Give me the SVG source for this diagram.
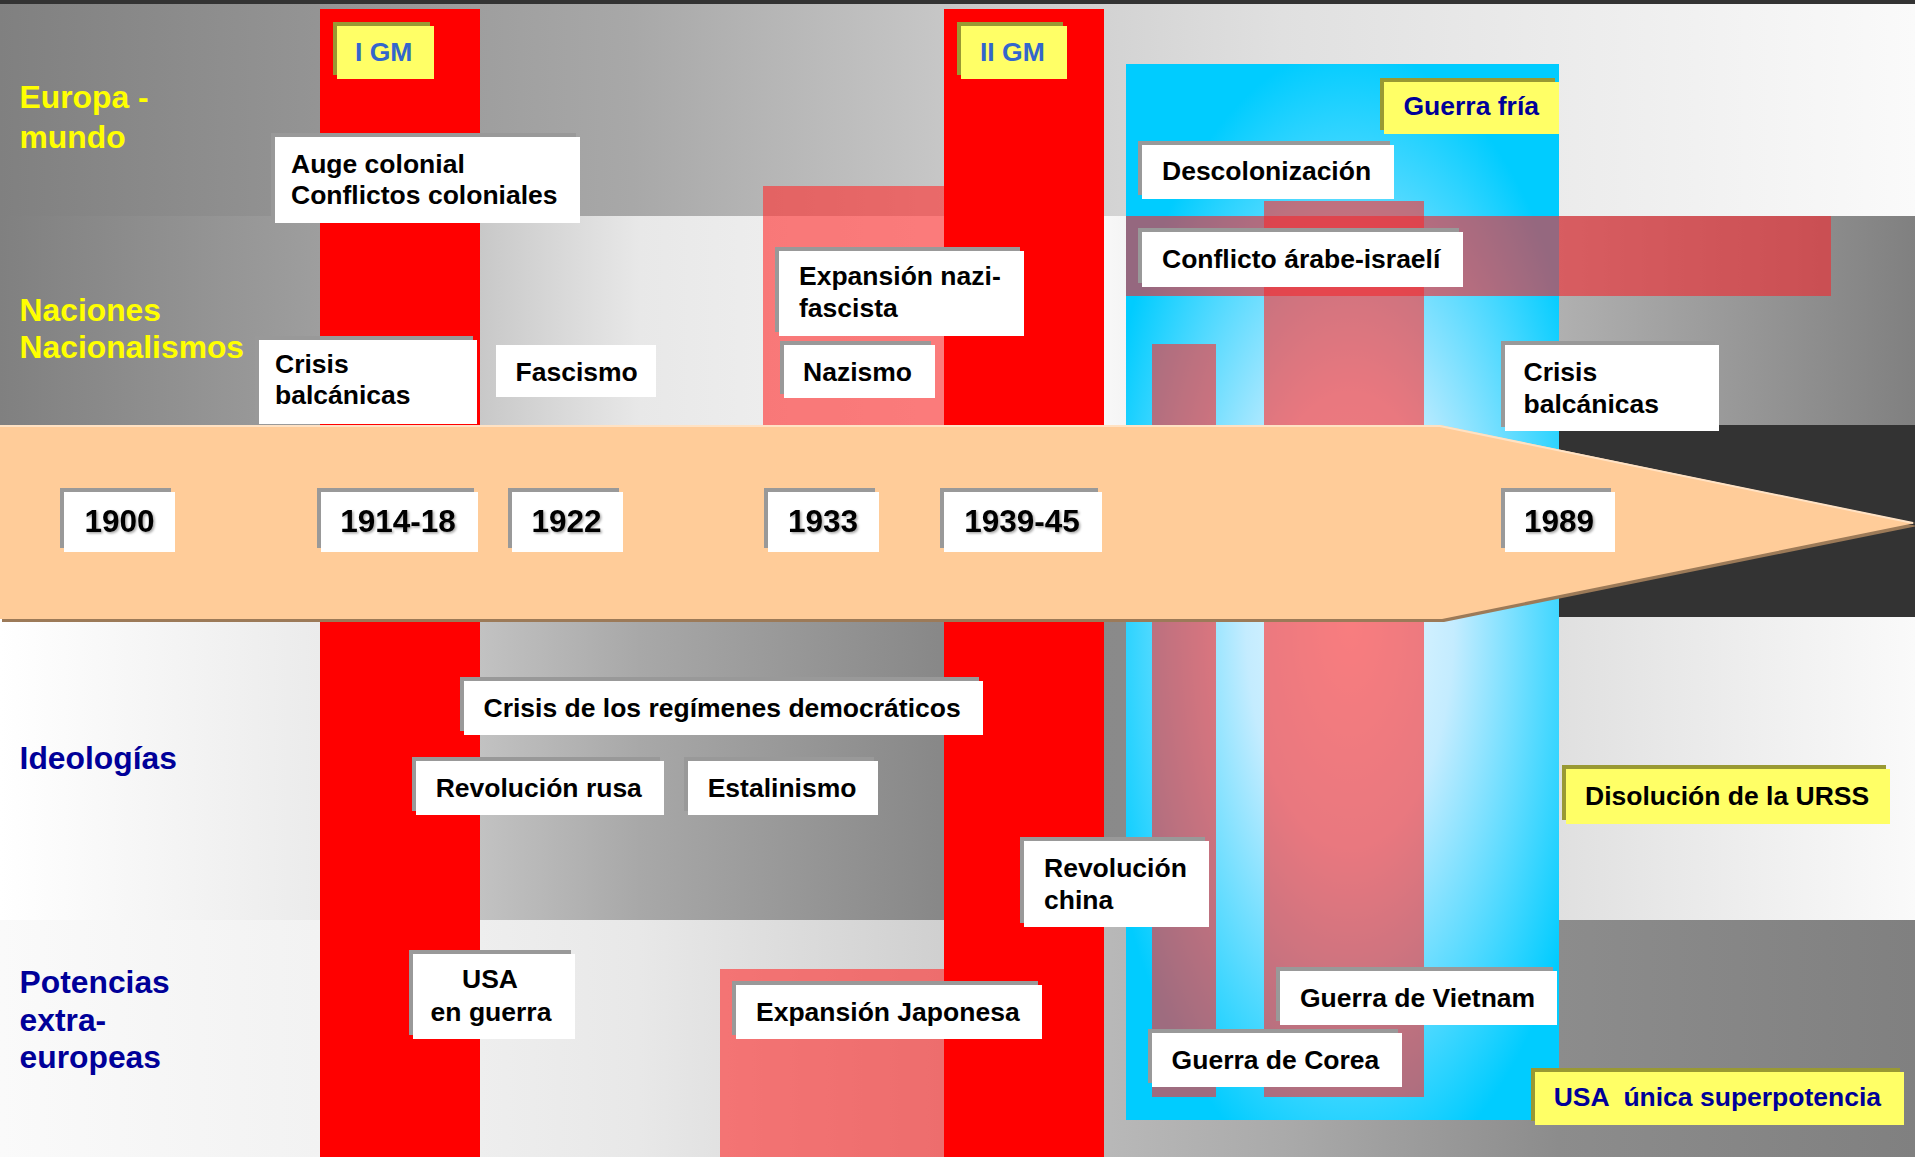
<svg xmlns="http://www.w3.org/2000/svg" width="1915" height="1157" viewBox="0 0 1915 1157">
<style>
.t{font-family:"Liberation Sans",Arial,Helvetica,sans-serif;font-weight:bold;font-size:26.5px;fill:#000}
.yr{font-family:"Liberation Sans",Arial,Helvetica,sans-serif;font-weight:bold;font-size:31.5px;fill:#000;text-anchor:middle}
.lab{font-family:"Liberation Sans",Arial,Helvetica,sans-serif;font-weight:bold;font-size:31.8px}
.yl{fill:#ffff00}
.nv{fill:#000099}
.gm{fill:#3366cc}
.nvt{fill:#000099}
.box{fill:#ffffff}
.sh{fill:#999999}
.ybox{fill:#ffff66}
.ysh{fill:#999933}
.rose{fill:#ff3030;fill-opacity:0.62}
.war{fill:#ff0000}
</style>
<defs>
<linearGradient id="b1" gradientUnits="userSpaceOnUse" x1="0" y1="0" x2="1915" y2="0">
<stop offset="0" stop-color="#808080"/><stop offset="0.33" stop-color="#a8a8a8"/><stop offset="0.5" stop-color="#c8c8c8"/><stop offset="0.67" stop-color="#e0e0e0"/><stop offset="1" stop-color="#fafafa"/>
</linearGradient>
<linearGradient id="b2" gradientUnits="userSpaceOnUse" x1="0" y1="0" x2="1915" y2="0">
<stop offset="0" stop-color="#808080"/><stop offset="0.167" stop-color="#9e9e9e"/><stop offset="0.25" stop-color="#c8c8c8"/><stop offset="0.334" stop-color="#e8e8e8"/><stop offset="0.57" stop-color="#fafafa"/><stop offset="0.814" stop-color="#b0b0b0"/><stop offset="1" stop-color="#808080"/>
</linearGradient>
<linearGradient id="b4" gradientUnits="userSpaceOnUse" x1="0" y1="0" x2="1915" y2="0">
<stop offset="0" stop-color="#ffffff"/><stop offset="0.167" stop-color="#ebebeb"/><stop offset="0.25" stop-color="#c2c2c2"/><stop offset="0.334" stop-color="#a8a8a8"/><stop offset="0.49" stop-color="#888888"/><stop offset="0.588" stop-color="#8a8a8a"/><stop offset="0.814" stop-color="#e0e0e0"/><stop offset="1" stop-color="#fafafa"/>
</linearGradient>
<linearGradient id="b5" gradientUnits="userSpaceOnUse" x1="0" y1="0" x2="1915" y2="0">
<stop offset="0" stop-color="#fafafa"/><stop offset="0.25" stop-color="#eeeeee"/><stop offset="0.334" stop-color="#e8e8e8"/><stop offset="0.49" stop-color="#d0d0d0"/><stop offset="0.58" stop-color="#b8b8b8"/><stop offset="0.67" stop-color="#aaaaaa"/><stop offset="0.814" stop-color="#8c8c8c"/><stop offset="1" stop-color="#808080"/>
</linearGradient>
<radialGradient id="cold" gradientUnits="userSpaceOnUse" cx="1350" cy="620" r="260" gradientTransform="translate(1350 620) scale(1 2.2) translate(-1350 -620)">
<stop offset="0" stop-color="#eefaff"/><stop offset="0.4" stop-color="#c4ecff"/><stop offset="1" stop-color="#00ccff"/>
</radialGradient>
<filter id="ts" x="-10%" y="-20%" width="130%" height="150%">
<feDropShadow dx="1.5" dy="1.5" stdDeviation="1" flood-color="#000" flood-opacity="0.35"/>
</filter>
</defs>

<g id="background">
<rect x="0" y="0" width="1915" height="4" fill="#333333"/>
<rect x="0" y="4" width="1915" height="212" fill="url(#b1)"/>
<rect x="0" y="216" width="1915" height="209" fill="url(#b2)"/>
<rect x="0" y="425" width="1915" height="193" fill="#333333"/>
<rect x="0" y="617" width="1915" height="303" fill="url(#b4)"/>
<rect x="0" y="920" width="1915" height="237" fill="url(#b5)"/>
</g>

<g id="periods">
<rect class="rose" x="763" y="186" width="181" height="239"/>
<rect class="rose" x="720" y="969" width="224" height="188"/>
<rect class="war" x="320" y="9" width="160" height="1148"/>
<rect class="war" x="944" y="9" width="160" height="1148"/>
<rect x="1126" y="64" width="433" height="1056" fill="url(#cold)"/>
<rect class="rose" x="1152" y="344" width="64" height="753"/>
<rect class="rose" x="1264" y="201" width="160" height="896"/>
<rect class="rose" x="1126" y="216" width="705" height="80" style="fill:#f02a30"/>
</g>

<g id="timeline">
<polygon points="2,428 1442,428 1917,526 1444,622 2,622" fill="#9c7a58"/>
<polygon points="0,425 1440,425 1915,523 1442,619 0,619" fill="#ffcc99"/>
<polyline points="0,426 1440,426 1913,523" fill="none" stroke="#ffe2c4" stroke-width="2"/>
</g>

<g id="connectors"/>

<g id="labels-left">
<text class="lab yl" x="19.6" y="108">Europa -</text>
<text class="lab yl" x="19.6" y="148">mundo</text>
<text class="lab yl" x="19.6" y="321">Naciones</text>
<text class="lab yl" x="19.6" y="358">Nacionalismos</text>
<text class="lab nv" x="19.6" y="769">Ideologías</text>
<text class="lab nv" x="19.6" y="993">Potencias</text>
<text class="lab nv" x="19.6" y="1031">extra-</text>
<text class="lab nv" x="19.6" y="1068">europeas</text>
</g>

<g id="igm"><rect class="ysh" x="333" y="22" width="97" height="53"/><rect class="ybox" x="337" y="26" width="97" height="53"/><text class="t gm" x="355" y="61">I GM</text></g>
<g id="iigm"><rect class="ysh" x="957" y="22" width="106" height="53"/><rect class="ybox" x="961" y="26" width="106" height="53"/><text class="t gm" x="980" y="61">II GM</text></g>
<g id="guerra-fria"><rect class="ysh" x="1380" y="78" width="175" height="52"/><rect class="ybox" x="1384" y="82" width="175" height="52"/><text class="t nvt" x="1403.5" y="115">Guerra fría</text></g>

<g id="auge"><rect class="sh" x="271" y="133" width="305" height="86"/><rect class="box" x="275" y="137" width="305" height="86"/><text class="t" x="291" y="173">Auge colonial</text><text class="t" x="291" y="204">Conflictos coloniales</text></g>
<g id="crisis-balcanicas-1"><rect class="sh" x="255" y="336" width="218" height="84"/><rect class="box" x="259" y="340" width="218" height="84"/><text class="t" x="275" y="373">Crisis</text><text class="t" x="275" y="404">balcánicas</text></g>
<g id="fascismo"><rect class="box" x="496" y="345" width="160" height="52"/><text class="t" x="515.5" y="381">Fascismo</text></g>
<g id="expansion-nazi"><rect class="sh" x="775" y="247" width="245" height="85"/><rect class="box" x="779" y="251" width="245" height="85"/><text class="t" x="799" y="285">Expansión nazi-</text><text class="t" x="799" y="317">fascista</text></g>
<g id="nazismo"><rect class="sh" x="780" y="341" width="151" height="53"/><rect class="box" x="784" y="345" width="151" height="53"/><text class="t" x="803" y="381">Nazismo</text></g>
<g id="descolonizacion"><rect class="sh" x="1138" y="141" width="252" height="54"/><rect class="box" x="1142" y="145" width="252" height="54"/><text class="t" x="1162" y="180">Descolonización</text></g>
<g id="conflicto"><rect class="sh" x="1138" y="228" width="321" height="55"/><rect class="box" x="1142" y="232" width="321" height="55"/><text class="t" x="1162" y="268">Conflicto árabe-israelí</text></g>
<g id="crisis-balcanicas-2"><rect class="sh" x="1501" y="341" width="214" height="86"/><rect class="box" x="1505" y="345" width="214" height="86"/><text class="t" x="1523.5" y="381">Crisis</text><text class="t" x="1523.5" y="413">balcánicas</text></g>

<g id="y1900"><rect class="sh" x="60" y="488" width="111" height="60"/><rect class="box" x="64" y="492" width="111" height="60"/><text class="yr" filter="url(#ts)" x="119.5" y="532">1900</text></g>
<g id="y1914"><rect class="sh" x="317" y="488" width="157" height="60"/><rect class="box" x="321" y="492" width="157" height="60"/><text class="yr" filter="url(#ts)" x="398" y="532">1914-18</text></g>
<g id="y1922"><rect class="sh" x="508" y="488" width="111" height="60"/><rect class="box" x="512" y="492" width="111" height="60"/><text class="yr" filter="url(#ts)" x="566.5" y="532">1922</text></g>
<g id="y1933"><rect class="sh" x="764" y="488" width="111" height="60"/><rect class="box" x="768" y="492" width="111" height="60"/><text class="yr" filter="url(#ts)" x="823" y="532">1933</text></g>
<g id="y1939"><rect class="sh" x="940" y="488" width="158" height="60"/><rect class="box" x="944" y="492" width="158" height="60"/><text class="yr" filter="url(#ts)" x="1022" y="532">1939-45</text></g>
<g id="y1989"><rect class="sh" x="1501" y="488" width="110" height="60"/><rect class="box" x="1505" y="492" width="110" height="60"/><text class="yr" filter="url(#ts)" x="1559" y="532">1989</text></g>

<g id="crisis-democracias"><rect class="sh" x="460" y="677" width="519" height="54"/><rect class="box" x="464" y="681" width="519" height="54"/><text class="t" x="483.5" y="717">Crisis de los regímenes democráticos</text></g>
<g id="revolucion-rusa"><rect class="sh" x="412" y="757" width="248" height="54"/><rect class="box" x="416" y="761" width="248" height="54"/><text class="t" x="435.7" y="797">Revolución rusa</text></g>
<g id="estalinismo"><rect class="sh" x="684" y="757" width="190" height="54"/><rect class="box" x="688" y="761" width="190" height="54"/><text class="t" x="707.7" y="797">Estalinismo</text></g>
<g id="revolucion-china"><rect class="sh" x="1020" y="837" width="185" height="86"/><rect class="box" x="1024" y="841" width="185" height="86"/><text class="t" x="1044" y="877">Revolución</text><text class="t" x="1044" y="909">china</text></g>
<g id="disolucion"><rect class="ysh" x="1562" y="765" width="324" height="55"/><rect class="ybox" x="1566" y="769" width="324" height="55"/><text class="t" x="1585" y="805">Disolución de la URSS</text></g>

<g id="usa-guerra"><rect class="sh" x="409" y="950" width="162" height="85"/><rect class="box" x="413" y="954" width="162" height="85"/><text class="t" x="490" y="988" text-anchor="middle">USA</text><text class="t" x="491" y="1021" text-anchor="middle">en guerra</text></g>
<g id="expansion-japonesa"><rect class="sh" x="732" y="981" width="306" height="54"/><rect class="box" x="736" y="985" width="306" height="54"/><text class="t" x="756" y="1021">Expansión Japonesa</text></g>
<g id="guerra-vietnam"><rect class="sh" x="1276" y="967" width="277" height="54"/><rect class="box" x="1280" y="971" width="277" height="54"/><text class="t" x="1300" y="1007">Guerra de Vietnam</text></g>
<g id="guerra-corea"><rect class="sh" x="1148" y="1029" width="250" height="54"/><rect class="box" x="1152" y="1033" width="250" height="54"/><text class="t" x="1171.6" y="1069">Guerra de Corea</text></g>
<g id="usa-superpotencia"><rect class="ysh" x="1531" y="1068" width="369" height="53"/><rect class="ybox" x="1535" y="1072" width="369" height="53"/><text class="t nvt" x="1553.7" y="1106" xml:space="preserve">USA  única superpotencia</text></g>
</svg>
